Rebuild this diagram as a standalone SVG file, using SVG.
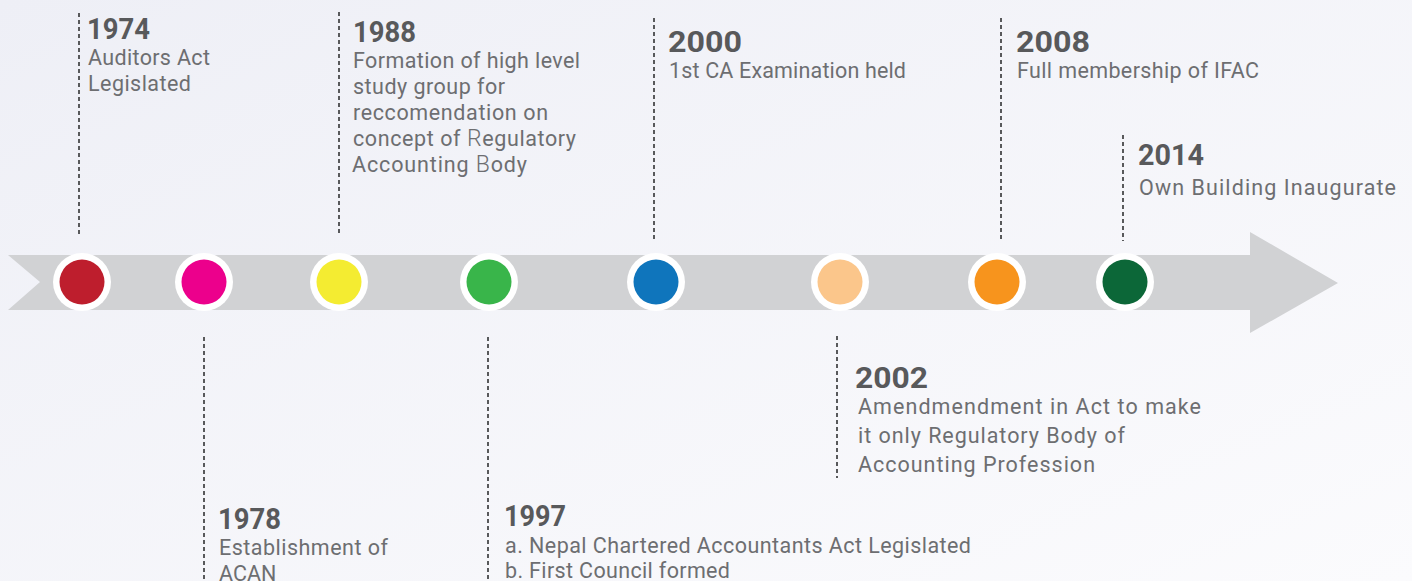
<svg xmlns="http://www.w3.org/2000/svg" width="1412" height="581" viewBox="0 0 1412 581">
<defs>
<linearGradient id="bg" x1="0" y1="0" x2="1" y2="1">
<stop offset="0" stop-color="#eeeff6"/>
<stop offset="1" stop-color="#fbfbfd"/>
</linearGradient>
<style>
.yr{font-family:Roboto,"Liberation Sans",sans-serif;font-weight:700;font-size:29px;fill:#58595b}
.tx{font-family:Roboto,"Liberation Sans",sans-serif;font-weight:400;font-size:21.5px;fill:#6d6e71}
.lt{font-weight:300;font-size:23px}
.dash{stroke:#58595b;stroke-width:2;stroke-dasharray:4 3;fill:none}
.ring{fill:#ffffff}
</style>
</defs>
<rect width="1412" height="581" fill="url(#bg)"/>
<g id="band">
<path d="M8 255 H1250 V232 L1338 283 L1250 333 V310 H8 L40 282 Z" fill="#d1d2d4"/>
</g>
<g id="connectors">
<line class="dash" x1="79" y1="13" x2="79" y2="236"/>
<line class="dash" x1="339" y1="12" x2="339" y2="234"/>
<line class="dash" x1="654" y1="18" x2="654" y2="240"/>
<line class="dash" x1="1001" y1="18" x2="1001" y2="240"/>
<line class="dash" x1="1123" y1="135" x2="1123" y2="241"/>
<line class="dash" x1="204" y1="337" x2="204" y2="581"/>
<line class="dash" x1="488" y1="337" x2="488" y2="581"/>
<line class="dash" x1="837" y1="336" x2="837" y2="478"/>
</g>
<g id="node-1974">
<circle class="ring" cx="82" cy="282" r="29"/>
<circle cx="82" cy="282" r="22.5" fill="#be1e2d"/>
<text class="yr" x="87" y="39" textLength="63" lengthAdjust="spacingAndGlyphs">1974</text>
<text class="tx" x="88" y="65" textLength="122">Auditors Act</text>
<text class="tx" x="88" y="91" textLength="103">Legislated</text>
</g>
<g id="node-1978">
<circle class="ring" cx="204" cy="282" r="29"/>
<circle cx="204" cy="282" r="22.5" fill="#ec008c"/>
<text class="yr" x="218" y="529" textLength="63" lengthAdjust="spacingAndGlyphs">1978</text>
<text class="tx" x="219" y="555" textLength="169">Establishment of</text>
<text class="tx" x="219" y="581">ACAN</text>
</g>
<g id="node-1988">
<circle class="ring" cx="339" cy="282" r="29"/>
<circle cx="339" cy="282" r="22.5" fill="#f4ec31"/>
<text class="yr" x="353" y="42" textLength="63" lengthAdjust="spacingAndGlyphs">1988</text>
<text class="tx" x="353" y="68" textLength="227">Formation of high level</text>
<text class="tx" x="353" y="94" textLength="152">study group for</text>
<text class="tx" x="353" y="120" textLength="195">reccomendation on</text>
<text class="tx" x="353" y="146" textLength="223">concept of <tspan class="lt">R</tspan>egulatory</text>
<text class="tx" x="352" y="172" textLength="175">Accounting  <tspan class="lt">B</tspan>ody</text>
</g>
<g id="node-1997">
<circle class="ring" cx="489" cy="282" r="29"/>
<circle cx="489" cy="282" r="22.5" fill="#39b54a"/>
<text class="yr" x="504" y="526" textLength="62" lengthAdjust="spacingAndGlyphs">1997</text>
<text class="tx" x="505" y="553" textLength="466">a. Nepal Chartered Accountants Act Legislated</text>
<text class="tx" x="505" y="578" textLength="225">b. First Council formed</text>
</g>
<g id="node-2000">
<circle class="ring" cx="656" cy="282" r="29"/>
<circle cx="656" cy="282" r="22.5" fill="#0f75bc"/>
<text class="yr" x="668" y="52" textLength="74" lengthAdjust="spacingAndGlyphs">2000</text>
<text class="tx" x="669" y="78" textLength="237">1st CA Examination held</text>
</g>
<g id="node-2002">
<circle class="ring" cx="840" cy="282" r="29"/>
<circle cx="840" cy="282" r="22.5" fill="#fbc68b"/>
<text class="yr" x="855" y="388" textLength="73" lengthAdjust="spacingAndGlyphs">2002</text>
<text class="tx" x="858" y="414" textLength="343">Amendmendment in Act to make</text>
<text class="tx" x="858" y="443" textLength="267">it only Regulatory Body of</text>
<text class="tx" x="858" y="472" textLength="237">Accounting Profession</text>
</g>
<g id="node-2008">
<circle class="ring" cx="997" cy="282" r="29"/>
<circle cx="997" cy="282" r="22.5" fill="#f7941d"/>
<text class="yr" x="1016" y="52" textLength="74" lengthAdjust="spacingAndGlyphs">2008</text>
<text class="tx" x="1017" y="78" textLength="242">Full membership of IFAC</text>
</g>
<g id="node-2014">
<circle class="ring" cx="1125" cy="282" r="29"/>
<circle cx="1125" cy="282" r="22.5" fill="#0c6738"/>
<text class="yr" x="1138" y="165" textLength="66" lengthAdjust="spacingAndGlyphs">2014</text>
<text class="tx" x="1139" y="195" textLength="257">Own Building Inaugurate</text>
</g>
</svg>
